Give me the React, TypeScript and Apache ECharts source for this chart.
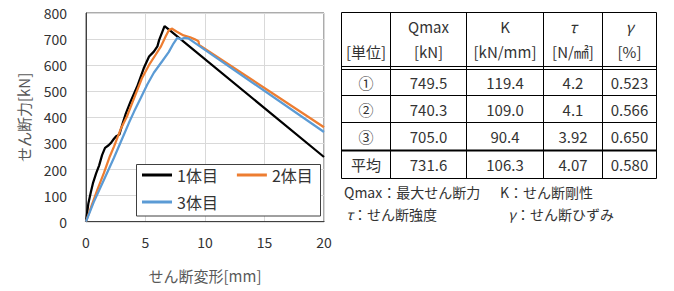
import React, { useEffect, useRef } from "react";
import * as echarts from "echarts";

// ---- chart data ----
const seriesNames = ["1体目", "2体目", "3体目"];
const seriesColors = ["#000000", "#ED7D31", "#5B9BD5"];

const s1X = [0, 0.2, 0.4, 0.6, 0.85, 1.1, 1.35, 1.6, 1.9, 2.1, 2.35, 2.55, 2.8, 3.05, 3.35, 3.75, 4.3, 4.85, 5.3, 5.7, 6.0, 6.15, 6.6, 7.0, 20];
const s1Y = [0, 70, 112, 150, 185, 215, 255, 283, 293, 302, 318, 328, 334, 372, 415, 461, 518, 588, 633, 652, 672, 697, 749.5, 735, 248];

const s2X = [0, 0.5, 0.95, 1.5, 2.0, 2.35, 2.9, 3.45, 3.6, 4.15, 4.7, 5.3, 5.85, 6.3, 6.7, 6.95, 7.2, 7.6, 8.2, 8.75, 9.15, 9.45, 9.5, 20];
const s2Y = [0, 65, 122, 186, 250, 288, 353, 404, 422, 486, 550, 601, 640, 672, 711, 733, 740.3, 729, 714, 707, 699, 692, 678, 362];

const s3X = [0, 0.65, 1.5, 2.35, 3.2, 3.6, 4.05, 4.6, 5.15, 5.7, 6.4, 6.95, 7.35, 7.67, 7.95, 8.3, 8.6, 20];
const s3Y = [0, 75, 160, 245, 335, 378, 423, 474, 526, 571, 615, 650, 683, 705, 699, 705, 703, 344];

const xAxisName = "せん断変形[mm]";
const yAxisName = "せん断力[kN]";

// ---- table data ----
const headerLine1 = ["", "Qmax", "K", "τ", "γ"];
const headerLine2 = ["[単位]", "[kN]", "[kN/mm]", "[N/㎟]", "[%]"];
const rowLabels = ["①", "②", "③", "平均"];
const qmaxValues = ["749.5", "740.3", "705.0", "731.6"];
const kValues = ["119.4", "109.0", "90.4", "106.3"];
const tauValues = ["4.2", "4.1", "3.92", "4.07"];
const gammaValues = ["0.523", "0.566", "0.650", "0.580"];
const notesLine1 = ["Qmax：最大せん断力", "K：せん断剛性"];
const notesSymbols2 = ["τ", "γ"];
const notesLine2 = ["：せん断強度", "：せん断ひずみ"];

const FONT = '"Noto Sans CJK JP", "Noto Sans", sans-serif';

function zip(xs: number[], ys: number[]) {
  return xs.map((x, i) => [x, ys[i]]);
}

function buildTable(): any[] {
  const colX = [341.5, 390.5, 466.5, 543.5, 602.5, 656.5];
  const top = 12.5;
  const headerBottom = 66.5;
  const rowLines = [69.5, 95.5, 122.5, 150.5, 178.5];
  const els: any[] = [];
  const lineColor = "#000";
  const bottom = rowLines[rowLines.length - 1];
  colX.forEach((x) => {
    els.push({ type: "line", shape: { x1: x, y1: top, x2: x, y2: bottom }, style: { stroke: lineColor, lineWidth: 1 } });
  });
  els.push({ type: "line", shape: { x1: colX[0], y1: top, x2: colX[5], y2: top }, style: { stroke: lineColor, lineWidth: 1 } });
  els.push({ type: "line", shape: { x1: colX[0], y1: headerBottom, x2: colX[5], y2: headerBottom }, style: { stroke: lineColor, lineWidth: 1 } });
  rowLines.forEach((y, i) => {
    els.push({
      type: "line",
      shape: { x1: colX[0], y1: y, x2: colX[5], y2: y },
      style: { stroke: lineColor, lineWidth: i === 3 ? 2 : 1 },
    });
  });
  const cx = (i: number) => (colX[i] + colX[i + 1]) / 2;
  const txt = (text: string, x: number, y: number, italic = false, align = "center", size = 15) => ({
    type: "text",
    x,
    y,
    style: {
      text,
      fill: "#333",
      fontSize: size,
      fontFamily: FONT,
      fontStyle: italic ? "italic" : "normal",
      align,
      verticalAlign: "middle",
    },
  });
  headerLine1.forEach((t, i) => {
    if (t) els.push(txt(t, cx(i), 26.7, t === "τ" || t === "γ"));
  });
  headerLine2.forEach((t, i) => els.push(txt(t, cx(i), 51.7)));
  const rowCenters = [82, 109, 136.5, 164.5];
  rowLabels.forEach((lab, r) => {
    const vals = [lab, qmaxValues[r], kValues[r], tauValues[r], gammaValues[r]];
    vals.forEach((v, c) => els.push(txt(v, cx(c), rowCenters[r])));
  });
  els.push(txt(notesLine1[0], 344, 191.7, false, "left", 14));
  els.push(txt(notesLine1[1], 500, 191.7, false, "left", 14));
  els.push(txt(notesSymbols2[0], 346, 214, true, "left", 14));
  els.push(txt(notesLine2[0], 353, 214, false, "left", 14));
  els.push(txt(notesSymbols2[1], 508, 214, true, "left", 14));
  els.push(txt(notesLine2[1], 516, 214, false, "left", 14));
  return els;
}

export default function App() {
  const ref = useRef<HTMLDivElement>(null);
  useEffect(() => {
    if (!ref.current) return;
    const chart = echarts.init(ref.current, undefined, { renderer: "svg" });
    const datasets = [zip(s1X, s1Y), zip(s2X, s2Y), zip(s3X, s3Y)];
    const legendCommon = {
      left: 142,
      padding: 0,
      itemWidth: 30,
      itemHeight: 3,
      icon: "rect",
      textStyle: { fontSize: 16, color: "#333", fontFamily: FONT },
      z: 10,
    };
    chart.setOption({
      animation: false,
      textStyle: { fontFamily: FONT },
      grid: {
        left: 86,
        top: 13,
        right: 674 - 324,
        bottom: 291 - 221.7,
        show: true,
        borderColor: "#595959",
        borderWidth: 1,
      },
      xAxis: {
        type: "value",
        min: 0,
        max: 20,
        interval: 5,
        name: xAxisName,
        nameLocation: "middle",
        nameGap: 46,
        nameTextStyle: { fontSize: 15, color: "#595959", fontFamily: FONT },
        axisLine: { show: true, lineStyle: { color: "#404040", width: 1 } },
        axisTick: { show: false },
        axisLabel: { fontSize: 14, color: "#333", margin: 13, fontFamily: FONT },
        splitLine: { show: true, lineStyle: { color: "#d9d9d9", width: 1 } },
      },
      yAxis: {
        type: "value",
        min: 0,
        max: 800,
        interval: 100,
        name: yAxisName,
        nameLocation: "middle",
        nameRotate: 90,
        nameGap: 55,
        nameTextStyle: { fontSize: 15, color: "#595959", fontFamily: FONT },
        axisLine: { show: true, lineStyle: { color: "#404040", width: 1 } },
        axisTick: { show: false },
        axisLabel: { fontSize: 14, color: "#333", margin: 19, fontFamily: FONT },
        splitLine: { show: true, lineStyle: { color: "#d9d9d9", width: 1 } },
      },
      legend: [
        { ...legendCommon, data: [seriesNames[0], seriesNames[1]], top: 167, itemGap: 19 },
        { ...legendCommon, data: [seriesNames[2]], top: 194 },
      ],
      graphic: [
        {
          type: "rect",
          z: 5,
          shape: { x: 136.5, y: 164.5, width: 184, height: 51.5 },
          style: { fill: "#fff", stroke: "#404040", lineWidth: 1 },
        },
        ...buildTable(),
      ],
      series: datasets.map((d, i) => ({
        name: seriesNames[i],
        type: "line",
        data: d,
        symbol: "none",
        showSymbol: false,
        lineStyle: { color: seriesColors[i], width: 2.25 },
        itemStyle: { color: seriesColors[i] },
        z: 2,
      })),
    });
    return () => chart.dispose();
  }, []);
  return (
    <div
      ref={ref}
      style={{ position: "fixed", left: 0, top: 0, width: 674, height: 291, background: "#fff" }}
    />
  );
}
